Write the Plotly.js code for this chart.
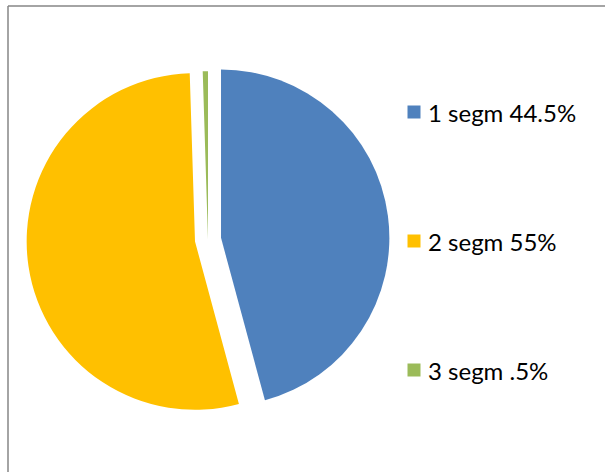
<!DOCTYPE html>
<html>
<head>
<meta charset="utf-8">
<script src="https://cdn.plot.ly/plotly-3.0.1.min.js"></script>
<style>
  html, body { margin: 0; padding: 0; background: #fff; }
  #chart { width: 605px; height: 472px; }
</style>
</head>
<body>
<div id="chart"></div>
<script>
// Data
const labels = ['1 segm 44.5%', '2 segm 55%', '3 segm .5%'];
const values = [45.8, 53.7, 0.5];
const colors = ['#4F81BD', '#FFC000', '#9BBB59'];
const pulls = [0.078, 0.078, 0];

const W = 605, H = 472;
// legend layout (pixels)
const legendTextX = 426;
const legendSquareX = 414;
const legendRowY = [112, 241, 370];
const sq = 13;

const annotations = labels.map((t, i) => ({
  xref: 'paper', yref: 'paper',
  x: legendTextX / W, y: 1 - legendRowY[i] / H,
  xanchor: 'left', yanchor: 'middle',
  text: t, showarrow: false,
  font: { family: 'Lato, "Open Sans", sans-serif', size: 24, color: '#000' }
}));

const shapes = labels.map((t, i) => ({
  type: 'rect', xref: 'paper', yref: 'paper',
  xsizemode: 'pixel', ysizemode: 'pixel',
  xanchor: legendSquareX / W, yanchor: 1 - legendRowY[i] / H,
  x0: -sq / 2, x1: sq / 2, y0: -sq / 2, y1: sq / 2,
  fillcolor: colors[i], line: { width: 0 }
}));
// chart area border (left and top edges visible)
shapes.push({ type: 'line', xref: 'paper', yref: 'paper',
  x0: 8 / W, x1: 8 / W, y0: -0.1, y1: 1 - 6 / H,
  line: { color: '#868686', width: 1.5 } });
shapes.push({ type: 'line', xref: 'paper', yref: 'paper',
  x0: 8 / W, x1: 1.1, y0: 1 - 6 / H, y1: 1 - 6 / H,
  line: { color: '#868686', width: 1.5 } });

const trace = {
  type: 'pie',
  labels: labels,
  values: values,
  marker: { colors: colors, line: { width: 0 } },
  pull: pulls,
  sort: false,
  direction: 'clockwise',
  rotation: 0,
  textinfo: 'none',
  hoverinfo: 'label',
  showlegend: false,
  domain: { x: [0.0436, 0.644], y: [0.108, 0.877] }
};

const layout = {
  width: W, height: H,
  margin: { l: 0, r: 0, t: 0, b: 0 },
  paper_bgcolor: '#fff',
  showlegend: false,
  annotations: annotations,
  shapes: shapes
};

Plotly.newPlot('chart', [trace], layout, { displayModeBar: false, staticPlot: true });
</script>
</body>
</html>
